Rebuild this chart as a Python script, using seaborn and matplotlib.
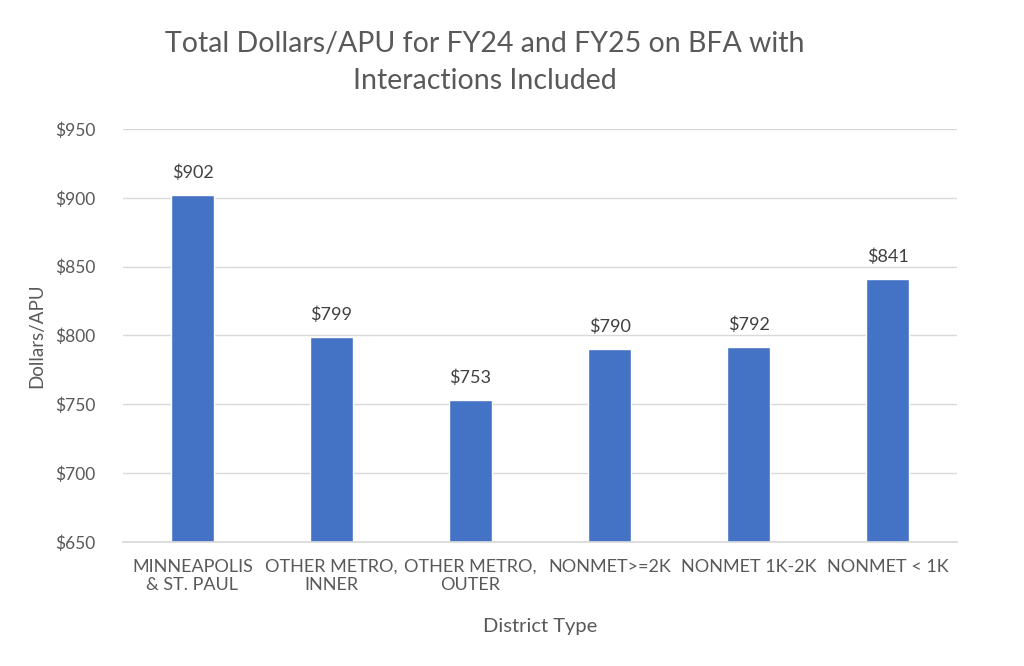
import matplotlib
matplotlib.use("Agg")
import matplotlib.pyplot as plt
import seaborn as sns
import pandas as pd

categories = ["MINNEAPOLIS\n& ST. PAUL", "OTHER METRO,\nINNER", "OTHER METRO,\nOUTER",
              "NONMET>=2K", "NONMET 1K-2K", "NONMET < 1K"]
values = [902, 799, 753, 790, 792, 841]
yticks = [650, 700, 750, 800, 850, 900, 950]

sns.set_theme(style="white")
plt.rcParams['font.family'] = ['Lato', 'DejaVu Sans']

df = pd.DataFrame({"District Type": categories, "Dollars/APU": values})

fig = plt.figure(figsize=(10.24, 6.66), dpi=100)
ax = fig.add_axes([0.1201, 0.1862, 0.8145, 0.6201])
sns.barplot(data=df, x="District Type", y="Dollars/APU", color="#4472C4",
            width=0.31, saturation=1, ax=ax)

ax.set_ylim(650, 950)
ax.set_yticks(yticks)
ax.set_yticklabels([f"${v}" for v in yticks])
ax.set_xlim(-0.5, len(categories) - 0.5)
ax.yaxis.grid(True, color="#D9D9D9", linewidth=1)
ax.set_axisbelow(True)
for s in ["top", "right", "left"]:
    ax.spines[s].set_visible(False)
ax.spines["bottom"].set_color("#D9D9D9")
ax.tick_params(axis="x", length=0, labelsize=13, colors="#595959", pad=12)
ax.tick_params(axis="y", length=0, labelsize=12.5, colors="#595959", pad=20)
for lbl in ax.get_xticklabels():
    lbl.set_linespacing(1.15)

for c in ax.containers:
    ax.bar_label(c, labels=[f"${v:.0f}" for v in values], padding=10,
                 fontsize=13, color="#404040")

ax.set_xlabel("District Type", fontsize=14.5, color="#595959", labelpad=18)
ax.set_ylabel("Dollars/APU", fontsize=13.5, color="#595959", labelpad=7)

fig.text(0.4736, 0.906, "Total Dollars/APU for FY24 and FY25 on BFA with\nInteractions Included",
         ha="center", va="center", fontsize=20.5, color="#595959", linespacing=1.5)

fig.savefig("out.png", dpi=100)
